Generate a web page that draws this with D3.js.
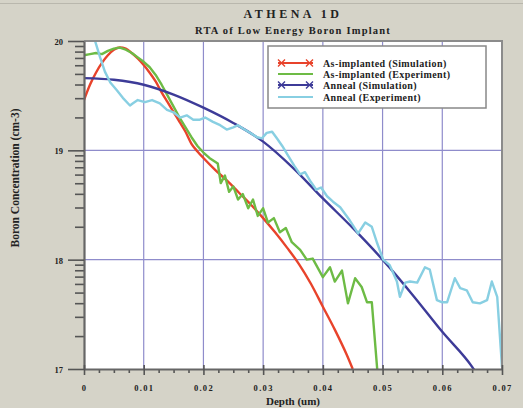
<!DOCTYPE html>
<html>
<head>
<meta charset="utf-8">
<script src="https://cdn.jsdelivr.net/npm/d3@7/dist/d3.min.js"></script>
<style>
    body { margin: 0; background: #d5d3c8; }
    svg { display: block; }
    text { font-family: "Liberation Serif", "Times New Roman", serif; font-weight: bold; fill: #222; }
</style>
</head>
<body>
<div id="chart"></div>
<script>
'use strict';

// depth in um, concentration as log10(cm-3)
const implSimDepth = [0, 0.001, 0.002, 0.003, 0.004, 0.005, 0.006, 0.007, 0.008, 0.009, 0.010, 0.011, 0.012,
    0.013, 0.014, 0.015, 0.016, 0.017, 0.018, 0.019, 0.020, 0.022, 0.024, 0.026, 0.028, 0.030, 0.032, 0.034,
    0.036, 0.038, 0.040, 0.042, 0.044, 0.045];
const implSimConc = [19.46, 19.60, 19.71, 19.80, 19.87, 19.92, 19.94, 19.93, 19.89, 19.84, 19.78, 19.71, 19.63,
    19.53, 19.44, 19.35, 19.26, 19.17, 19.06, 18.99, 18.93, 18.82, 18.72, 18.61, 18.50, 18.38, 18.25, 18.11,
    17.96, 17.78, 17.57, 17.36, 17.13, 17.0];

const implExpDepth = [0, 0.001, 0.002, 0.003, 0.004, 0.005, 0.006, 0.007, 0.008, 0.009, 0.010, 0.011, 0.012,
    0.013, 0.014, 0.015, 0.016, 0.017, 0.018, 0.019, 0.020, 0.021, 0.0224, 0.0229, 0.0236, 0.0243, 0.0250,
    0.0258, 0.0266, 0.0275, 0.0283, 0.0291, 0.0300, 0.0308, 0.0318, 0.0328, 0.0338, 0.0348, 0.0362, 0.0373,
    0.0383, 0.0400, 0.0412, 0.0420, 0.0432, 0.0442, 0.0454, 0.0465, 0.0474, 0.0482, 0.0491];
const implExpConc = [19.87, 19.88, 19.89, 19.88, 19.91, 19.93, 19.94, 19.92, 19.89, 19.85, 19.81, 19.76, 19.69,
    19.60, 19.50, 19.40, 19.30, 19.21, 19.12, 19.04, 18.98, 18.93, 18.88, 18.70, 18.77, 18.62, 18.67,
    18.55, 18.60, 18.47, 18.55, 18.40, 18.47, 18.34, 18.38, 18.25, 18.29, 18.16, 18.09, 18.00,
    18.01, 17.84, 17.93, 17.80, 17.90, 17.60, 17.83, 17.75, 17.61, 17.61, 17.0];

const annSimDepth = [0, 0.005, 0.010, 0.015, 0.020, 0.025, 0.030, 0.035, 0.040, 0.045, 0.050, 0.055, 0.060,
    0.065, 0.0655];
const annSimConc = [19.66, 19.645, 19.60, 19.51, 19.39, 19.25, 19.08, 18.84, 18.56, 18.29, 18.0, 17.68, 17.34,
    17.02, 16.98];

const annExpDepth = [0.0005, 0.0018, 0.0027, 0.0035, 0.0044, 0.0055, 0.0065, 0.0077, 0.0082, 0.0090, 0.0102,
    0.0114, 0.0127, 0.0139, 0.0149, 0.0161, 0.0172, 0.0183, 0.0194, 0.0203, 0.0216, 0.0228, 0.0239, 0.0250,
    0.0258, 0.0266, 0.0278, 0.0290, 0.0298, 0.0306, 0.0315, 0.0323, 0.0332, 0.0342, 0.0352, 0.0362, 0.0370,
    0.0380, 0.0389, 0.0397, 0.0407, 0.0417, 0.0429, 0.0445, 0.0459, 0.0471, 0.0482, 0.0491, 0.0501, 0.0512,
    0.0524, 0.0529, 0.0538, 0.0546, 0.0558, 0.0571, 0.0579, 0.0591, 0.0600, 0.0608, 0.0621, 0.0630, 0.0641,
    0.0651, 0.0663, 0.0675, 0.0683, 0.0692, 0.0700];
const annExpConc = [20.15, 20.01, 19.85, 19.72, 19.62, 19.55, 19.48, 19.41, 19.43, 19.46, 19.44,
    19.46, 19.43, 19.37, 19.35, 19.30, 19.32, 19.28, 19.28, 19.30, 19.26, 19.23, 19.19, 19.21,
    19.23, 19.20, 19.16, 19.12, 19.11, 19.16, 19.17, 19.11, 19.04, 18.95, 18.86, 18.78, 18.80,
    18.71, 18.64, 18.66, 18.58, 18.53, 18.48, 18.36, 18.24, 18.34, 18.30, 18.15, 18.00, 17.95,
    17.80, 17.66, 17.79, 17.80, 17.79, 17.93, 17.91, 17.63, 17.61, 17.61, 17.83, 17.74, 17.72,
    17.61, 17.60, 17.63, 17.80, 17.66, 17.02];

const xTicks = [0, 0.01, 0.02, 0.03, 0.04, 0.05, 0.06, 0.07];
const yTicks = [17, 18, 19, 20];

const series = [
    {name: "As-implanted (Simulation)", depth: implSimDepth, conc: implSimConc, color: "#e8432b", smooth: true, marker: true},
    {name: "As-implanted (Experiment)", depth: implExpDepth, conc: implExpConc, color: "#6dbb45", smooth: false, marker: false},
    {name: "Anneal (Simulation)", depth: annSimDepth, conc: annSimConc, color: "#3d3b98", smooth: true, marker: true},
    {name: "Anneal (Experiment)", depth: annExpDepth, conc: annExpConc, color: "#88cfe2", smooth: false, marker: false}
];

const width = 523, height = 408;
const plotLeft = 84, plotRight = 502, plotTop = 41, plotBottom = 369;

const svg = d3.select("#chart").append("svg")
    .attr("width", width)
    .attr("height", height);

// thin border line along the top of the picture
svg.append("line").attr("x1", 0).attr("x2", width).attr("y1", 3.5).attr("y2", 3.5)
    .style("stroke", "#b9b7ad").style("stroke-width", 1);

const x = d3.scaleLinear().domain([0, 0.07]).range([plotLeft, plotRight]);
const y = d3.scaleLog().domain([1e17, 1e20]).range([plotBottom, plotTop]);

svg.append("rect")
    .attr("x", plotLeft).attr("y", plotTop)
    .attr("width", plotRight - plotLeft).attr("height", plotBottom - plotTop)
    .style("fill", "#fff");

// grid
const grid = svg.append("g").attr("class", "grid");
grid.selectAll("line.v").data(xTicks.slice(1, -1)).enter().append("line")
    .attr("class", "v")
    .attr("x1", d => x(d)).attr("x2", d => x(d))
    .attr("y1", plotTop).attr("y2", plotBottom);
grid.selectAll("line.h").data(yTicks.slice(1, -1)).enter().append("line")
    .attr("class", "h")
    .attr("x1", plotLeft).attr("x2", plotRight)
    .attr("y1", d => y(Math.pow(10, d))).attr("y2", d => y(Math.pow(10, d)));
grid.selectAll("line").style("stroke", "#8f8ccb").style("stroke-width", 1.2);

// curves
svg.append("clipPath").attr("id", "plot-clip").append("rect")
    .attr("x", plotLeft).attr("y", plotTop)
    .attr("width", plotRight - plotLeft).attr("height", plotBottom - plotTop);

const curves = svg.append("g").attr("clip-path", "url(#plot-clip)");
for (let s of series) {
    let pts = s.depth.map((d, i) => [d, Math.pow(10, s.conc[i])]);
    let line = d3.line()
        .x(p => x(p[0]))
        .y(p => y(p[1]))
        .curve(s.smooth ? d3.curveMonotoneX : d3.curveLinear);
    curves.append("path")
        .datum(pts)
        .attr("d", line)
        .style("fill", "none")
        .style("stroke", s.color)
        .style("stroke-width", 2.4)
        .style("stroke-linejoin", "round");
}

// frame
svg.append("path")
    .attr("d", `M${plotLeft},${plotTop}H${plotRight}V${plotBottom}`)
    .style("fill", "none").style("stroke", "#8b8b8b").style("stroke-width", 2);

// y axis
const yMinor = [];
for (let e = 17; e < 20; e++) {
    for (let k = 2; k <= 9; k++) yMinor.push(k * Math.pow(10, e));
}
svg.append("g")
    .attr("transform", `translate(${plotLeft},0)`)
    .call(d3.axisLeft(y).tickValues(yMinor).tickSize(9).tickFormat(""))
    .call(g => g.select(".domain").remove());
const yAxis = svg.append("g")
    .attr("transform", `translate(${plotLeft},0)`)
    .call(d3.axisLeft(y)
        .tickValues(yTicks.map(d => Math.pow(10, d)))
        .tickSizeInner(16)
        .tickSizeOuter(0)
        .tickPadding(5)
        .tickFormat(d => Math.round(Math.log10(d))));
yAxis.selectAll("text").style("font-size", "8.5px").attr("dy", "0.4em");

// x axis
const xMinor = d3.range(0, 28).map(i => i * 0.0025).filter((d, i) => i % 4 !== 0);
svg.append("g")
    .attr("transform", `translate(0,${plotBottom})`)
    .call(d3.axisBottom(x).tickValues(xMinor).tickSize(4).tickFormat(""))
    .call(g => g.select(".domain").remove());
const xAxis = svg.append("g")
    .attr("transform", `translate(0,${plotBottom})`)
    .call(d3.axisBottom(x)
        .tickValues(xTicks)
        .tickSizeInner(6)
        .tickSizeOuter(0)
        .tickPadding(10)
        .tickFormat(d => d === 0 ? "0" : d.toFixed(2)));
xAxis.selectAll(".tick line").attr("y1", -4);
xAxis.selectAll("text").style("font-size", "8.5px").style("letter-spacing", "1.3px");

svg.selectAll(".tick line").style("stroke", "#555").style("stroke-width", 1.6);
svg.selectAll(".domain").style("stroke", "#666").style("stroke-width", 2.2);

// titles
const midX = (plotLeft + plotRight) / 2;
svg.append("text").attr("x", midX).attr("y", 18)
    .attr("text-anchor", "middle")
    .style("font-size", "12px").style("letter-spacing", "3.5px")
    .text("ATHENA 1D");
svg.append("text").attr("x", midX).attr("y", 34)
    .attr("text-anchor", "middle")
    .style("font-size", "10.5px").style("letter-spacing", "1.2px")
    .text("RTA of Low Energy Boron Implant");
svg.append("text").attr("x", midX).attr("y", 404.5)
    .attr("text-anchor", "middle")
    .style("font-size", "11px")
    .text("Depth (um)");
svg.append("text")
    .attr("transform", `translate(19,178) rotate(-90)`)
    .attr("text-anchor", "middle")
    .style("font-size", "11.5px")
    .text("Boron Concentration (cm-3)");

// legend
const legend = svg.append("g").attr("class", "legend");
legend.append("rect")
    .attr("x", 268).attr("y", 46).attr("width", 218).attr("height", 62)
    .style("fill", "#fff").style("stroke", "#888").style("stroke-width", 1.5);
const rowY = [63, 74, 85, 97];
series.forEach((s, i) => {
    let g = legend.append("g").attr("transform", `translate(0,${rowY[i]})`);
    g.append("line").attr("x1", 278).attr("x2", 313).attr("y1", 0).attr("y2", 0)
        .style("stroke", s.color).style("stroke-width", 2.2);
    if (s.marker) {
        for (let cx of [281.5, 309.5]) {
            g.append("path")
                .attr("d", `M${cx - 3.5},-3.5L${cx + 3.5},3.5M${cx - 3.5},3.5L${cx + 3.5},-3.5`)
                .style("stroke", s.color).style("stroke-width", 1.4);
        }
    }
    g.append("text").attr("x", 323).attr("y", 3.5)
        .style("font-size", "10px").style("letter-spacing", "0.4px")
        .text(s.name);
});
</script>
</body>
</html>
